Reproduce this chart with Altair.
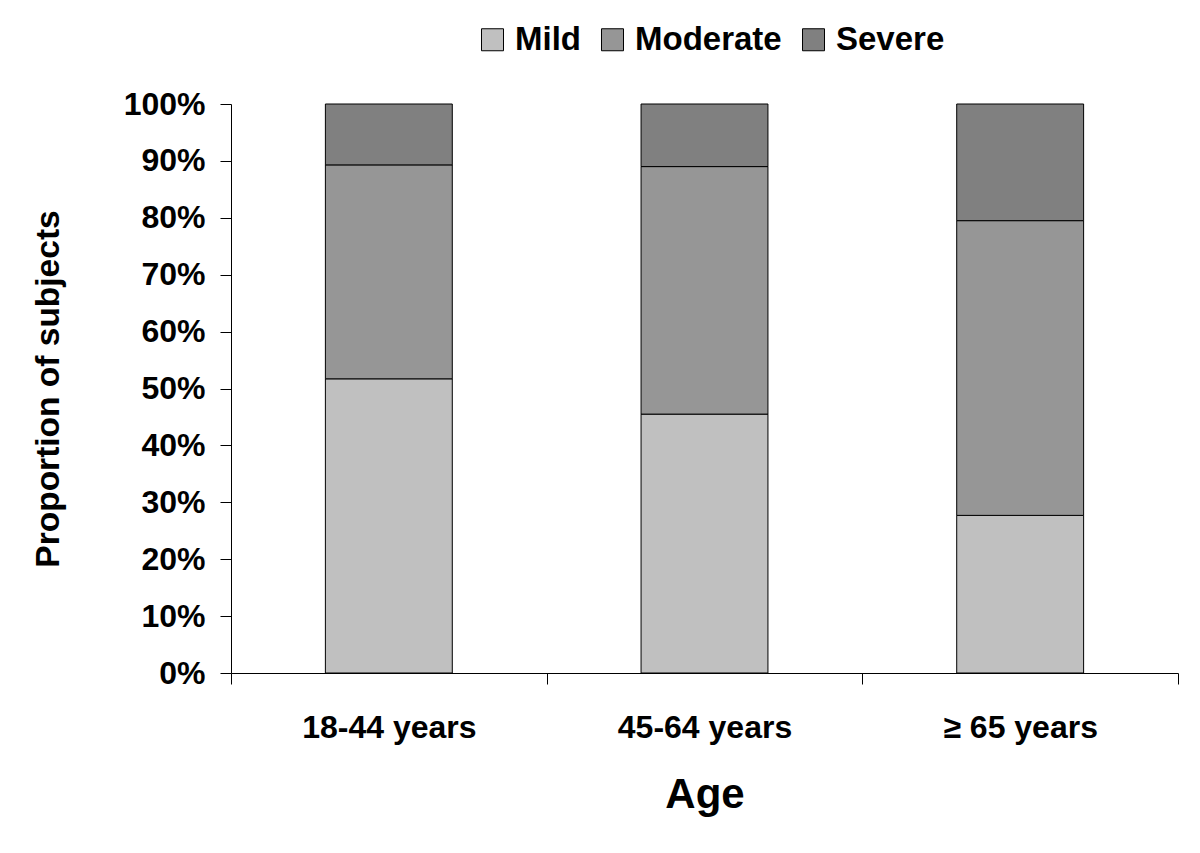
import altair as alt
import pandas as pd

groups = ["18-44 years", "45-64 years", "≥ 65 years"]
severity = ["Mild", "Moderate", "Severe"]
mild = [51.7, 45.5, 27.7]
moderate = [37.6, 43.5, 51.8]
severe = [10.7, 11.0, 20.5]
colors = ["#C0C0C0", "#969696", "#808080"]
y_ticks = [0, 0.1, 0.2, 0.3, 0.4, 0.5, 0.6, 0.7, 0.8, 0.9, 1.0]

rows = []
for i, g in enumerate(groups):
    for k, (s, vals) in enumerate(zip(severity, [mild, moderate, severe])):
        rows.append({"Age": g, "Severity": s, "Value": vals[i], "order": k})
df = pd.DataFrame(rows)

FONT = "Liberation Sans"

chart = alt.Chart(df).mark_bar(
    stroke="black", strokeWidth=1, width=alt.RelativeBandSize(0.402)
).encode(
    x=alt.X(
        "Age:N",
        sort=groups,
        scale=alt.Scale(paddingInner=0, paddingOuter=0),
        axis=alt.Axis(
            title="Age",
            labelAngle=0,
            tickBand="extent",
            tickSize=11,
            labelPadding=28,
            labelFontSize=32,
            titleFontSize=42,
            titlePadding=31,
            grid=False,
        ),
    ),
    y=alt.Y(
        "Value:Q",
        stack="normalize",
        scale=alt.Scale(domain=[0, 1]),
        axis=alt.Axis(
            title="Proportion of subjects",
            format=".0%",
            values=y_ticks,
            tickSize=11,
            labelPadding=15,
            labelFontSize=32,
            titleFontSize=33.5,
            titlePadding=58,
            grid=False,
        ),
    ),
    color=alt.Color(
        "Severity:N",
        sort=severity,
        scale=alt.Scale(domain=severity, range=colors),
        legend=alt.Legend(
            title=None,
            orient="none",
            direction="horizontal",
            legendX=245,
            legendY=-81,
            symbolType="square",
            symbolSize=484,
            symbolStrokeColor="black",
            symbolStrokeWidth=1,
            symbolOpacity=1,
            labelFontSize=33,
            labelFont=FONT,
            labelFontWeight="bold",
            labelColor="black",
            labelOffset=6,
            columnPadding=15,
        ),
    ),
    order=alt.Order("order:Q"),
).properties(
    width=947,
    height=569,
    padding={"left": 23, "top": 15, "right": 10, "bottom": 5},
).configure_view(
    stroke=None
).configure_axis(
    labelFont=FONT,
    titleFont=FONT,
    labelFontWeight="bold",
    titleFontWeight="bold",
    labelColor="black",
    titleColor="black",
    domainColor="black",
    tickColor="black",
    domainWidth=1,
    tickWidth=1,
)

chart.save("out.html", embed_options={"renderer": "svg", "actions": False})
